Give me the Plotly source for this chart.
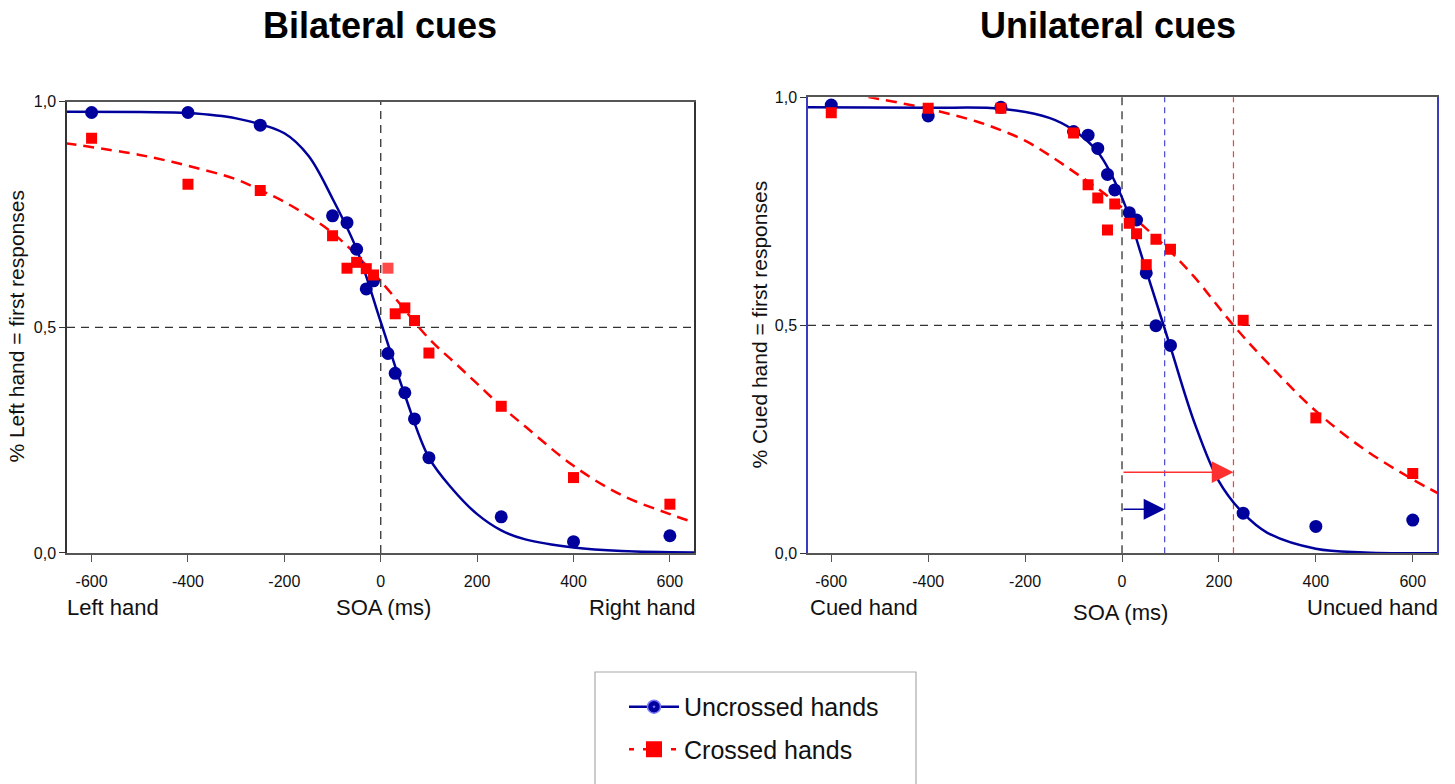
import plotly.graph_objects as go

# ---------------- data ----------------
soa = [-600, -400, -250, -100, -70, -50, -30, -15, 15, 30, 50, 70, 100, 250, 400, 600]

# Bilateral cues: proportion "left hand = first response"
bil_uncrossed = [0.976, 0.976, 0.948, 0.747, 0.732, 0.673, 0.585, 0.603,
                 0.442, 0.398, 0.355, 0.297, 0.211, 0.080, 0.025, 0.038]
bil_crossed = [0.919, 0.817, 0.803, 0.703, 0.631, 0.644, 0.630, 0.616,
               0.631, 0.530, 0.543, 0.515, 0.443, 0.325, 0.167, 0.108]

# Unilateral cues: proportion "cued hand = first response"
uni_uncrossed = [0.983, 0.959, 0.978, 0.925, 0.917, 0.888, 0.831, 0.797,
                 0.747, 0.731, 0.615, 0.499, 0.456, 0.088, 0.059, 0.073]
uni_crossed = [0.966, 0.976, 0.976, 0.922, 0.808, 0.779, 0.709, 0.766,
               0.724, 0.701, 0.633, 0.689, 0.667, 0.511, 0.297, 0.175]

# fitted curves
bil_unc_fit_x = [-655, -500, -400, -300, -200, -150, -100, -50, 0, 50, 100, 150, 200, 250, 300, 400, 500, 655]
bil_unc_fit_y = [0.978, 0.977, 0.975, 0.963, 0.930, 0.880, 0.785, 0.673, 0.512, 0.350, 0.211, 0.140,
                 0.086, 0.050, 0.030, 0.012, 0.004, 0.001]
bil_cr_fit_x = [-655, -500, -400, -300, -250, -200, -100, 0, 100, 150, 200, 250, 300, 400, 500, 600, 655]
bil_cr_fit_y = [0.908, 0.882, 0.858, 0.828, 0.804, 0.778, 0.709, 0.602, 0.475, 0.425, 0.375, 0.325,
                0.280, 0.193, 0.128, 0.086, 0.066]
uni_unc_fit_x = [-655, -400, -250, -150, -100, -50, 0, 50, 100, 150, 200, 250, 300, 400, 500, 655]
uni_unc_fit_y = [0.978, 0.977, 0.975, 0.955, 0.928, 0.880, 0.780, 0.620, 0.452, 0.285, 0.158, 0.088,
                 0.045, 0.010, 0.002, 0.000]
uni_cr_fit_x = [-560, -520, -400, -300, -250, -200, -150, -100, -50, 0, 50, 100, 150, 230, 300, 400, 500, 600, 655]
uni_cr_fit_y = [1.008, 1.000, 0.975, 0.947, 0.928, 0.905, 0.873, 0.837, 0.800, 0.758, 0.712, 0.662,
                0.605, 0.500, 0.418, 0.312, 0.228, 0.162, 0.130]

# points of subjective simultaneity (unilateral cues)
pse_uncrossed = 88
pse_crossed = 230
arrow_y_uncrossed = 0.0965
arrow_y_crossed = 0.178

x_ticks = [-600, -400, -200, 0, 200, 400, 600]
x_ticktext = ["-600", "-400", "-200", "0", "200", "400", "600"]
y_ticks = [0, 0.5, 1.0]
y_ticktext = ["0,0", "0,5", "1,0"]

BLUE = "#00009c"
RED = "#ff0000"
FONT = "Arial, Liberation Sans, sans-serif"
W, H = 1455, 784
VSCALE = 0.98  # vertical compensation measured against the rendered page

fig = go.Figure()

# ---------- left panel ----------
fig.add_trace(go.Scatter(x=bil_cr_fit_x, y=bil_cr_fit_y, mode="lines", line_shape="spline",
                         line=dict(color=RED, width=2.5, dash="11px,7px"),
                         xaxis="x", yaxis="y", showlegend=False, hoverinfo="skip"))
fig.add_trace(go.Scatter(x=bil_unc_fit_x, y=bil_unc_fit_y, mode="lines", line_shape="spline",
                         line=dict(color=BLUE, width=2.5),
                         xaxis="x", yaxis="y", showlegend=False, hoverinfo="skip"))
fig.add_trace(go.Scatter(x=soa, y=bil_uncrossed, mode="markers",
                         marker=dict(symbol="circle", size=13, color=BLUE),
                         xaxis="x", yaxis="y", showlegend=False))
red_cols_left = [RED] * len(soa)
red_cols_left[8] = "#ff4a4a"
fig.add_trace(go.Scatter(x=soa, y=bil_crossed, mode="markers",
                         marker=dict(symbol="square", size=11, color=red_cols_left),
                         xaxis="x", yaxis="y", showlegend=False))

# ---------- right panel ----------
fig.add_trace(go.Scatter(x=uni_cr_fit_x, y=uni_cr_fit_y, mode="lines", line_shape="spline",
                         line=dict(color=RED, width=2.5, dash="11px,7px"),
                         xaxis="x2", yaxis="y2", showlegend=False, hoverinfo="skip"))
fig.add_trace(go.Scatter(x=uni_unc_fit_x, y=uni_unc_fit_y, mode="lines", line_shape="spline",
                         line=dict(color=BLUE, width=2.5),
                         xaxis="x2", yaxis="y2", showlegend=False, hoverinfo="skip"))
fig.add_trace(go.Scatter(x=soa, y=uni_uncrossed, mode="markers",
                         marker=dict(symbol="circle", size=13, color=BLUE),
                         xaxis="x2", yaxis="y2", showlegend=False))
fig.add_trace(go.Scatter(x=soa, y=uni_crossed, mode="markers",
                         marker=dict(symbol="square", size=11, color=RED),
                         xaxis="x2", yaxis="y2", showlegend=False))

# ---------- legend entries ----------
fig.add_trace(go.Scatter(x=[None], y=[None], mode="lines+markers", name="Uncrossed hands",
                         line=dict(color=BLUE, width=2.5),
                         marker=dict(symbol="circle-dot", size=13, color=BLUE,
                                     line=dict(color="#7a7aff", width=1.5)),
                         legendgroup="a", showlegend=True))
fig.add_trace(go.Scatter(x=[None], y=[None], mode="lines+markers", name="Crossed hands",
                         line=dict(color=RED, width=2.5, dash="5px,9px"),
                         marker=dict(symbol="square", size=16, color=RED),
                         legendgroup="b", showlegend=True))

# ---------- axes ----------
def px_x(p):
    return p / W

def px_y(p):
    q = H / 2 + (p - H / 2) / VSCALE
    return 1 - q / H

axis_common = dict(showgrid=False, zeroline=False, ticks="outside", showline=True, mirror=True,
                   tickfont=dict(family=FONT, size=16, color="#111"))

fig.update_layout(
    width=W, height=H,
    margin=dict(l=0, r=0, t=0, b=0),
    paper_bgcolor="white", plot_bgcolor="white",
    xaxis=dict(domain=[px_x(67), px_x(694)], range=[-651, 650], anchor="y",
               tickvals=x_ticks, ticktext=x_ticktext, ticklen=7, tickcolor="#555",
               linecolor="#555", linewidth=1.5, ticklabelstandoff=6, **axis_common),
    yaxis=dict(domain=[px_y(553.7), px_y(101.7)], range=[0, 1], anchor="x",
               tickvals=y_ticks, ticktext=y_ticktext, ticklen=6, tickcolor="#333",
               linecolor="#333", linewidth=1.5, **axis_common),
    xaxis2=dict(domain=[px_x(808), px_x(1437)], range=[-648, 650], anchor="y2",
                tickvals=x_ticks, ticktext=x_ticktext, ticklen=7, tickcolor="#555",
                linecolor="#555", linewidth=1.5, ticklabelstandoff=6, **axis_common),
    yaxis2=dict(domain=[px_y(554.1), px_y(97.3)], range=[0, 1], anchor="x2",
                tickvals=y_ticks, ticktext=y_ticktext, ticklen=6, tickcolor="#333",
                linecolor="#3b3bc0", linewidth=1.5, **axis_common),
    showlegend=True,
    legend=dict(x=px_x(624), y=px_y(685), xanchor="left", yanchor="top",
                font=dict(family=FONT, size=25, color="#111"),
                bgcolor="rgba(0,0,0,0)", borderwidth=0,
                traceorder="grouped", tracegroupgap=7, itemwidth=50),
)

# ---------- reference lines ----------
shapes = []
dash_black = "8px,6px"
for xr, yr in (("x", "y"), ("x2", "y2")):
    shapes.append(dict(type="line", xref=xr, yref=f"{yr} domain", x0=0, x1=0, y0=0, y1=1,
                       line=dict(color="#333", width=1.3, dash=dash_black), layer="below"))
    shapes.append(dict(type="line", xref=f"{xr} domain", yref=yr, x0=0, x1=1, y0=0.5, y1=0.5,
                       line=dict(color="#333", width=1.3, dash=dash_black), layer="below"))
shapes.append(dict(type="line", xref="x2", yref="y2 domain", x0=pse_uncrossed, x1=pse_uncrossed,
                   y0=0, y1=1, line=dict(color="#4848d0", width=1.2, dash="6px,5px"), layer="below"))
shapes.append(dict(type="line", xref="x2", yref="y2 domain", x0=pse_crossed, x1=pse_crossed,
                   y0=0, y1=1, line=dict(color="#ff3a3a", width=1.2, dash="6px,5px"), layer="below"))
# legend box
shapes.append(dict(type="rect", xref="paper", yref="paper", x0=px_x(595), x1=px_x(916),
                   y0=px_y(810), y1=px_y(673), line=dict(color="#aaaaaa", width=1.2)))
fig.update_layout(shapes=shapes)

# ---------- annotations ----------
def label(text, x, y, xanchor="center", size=22, angle=0, bold=False):
    return dict(text=f"<b>{text}</b>" if bold else text, x=px_x(x), y=px_y(y),
                xref="paper", yref="paper", xanchor=xanchor, yanchor="middle",
                textangle=angle, showarrow=False,
                font=dict(family=FONT, size=size, color="#000" if bold else "#111"))

ann = []
# arrows
ann.append(dict(x=pse_crossed, y=arrow_y_crossed, ax=0, ay=arrow_y_crossed,
                xref="x2", yref="y2", axref="x2", ayref="y2", text="", showarrow=True,
                arrowhead=2, arrowsize=2.9, arrowwidth=1.5, arrowcolor="#ff3030"))
ann.append(dict(x=pse_uncrossed, y=arrow_y_uncrossed, ax=0, ay=arrow_y_uncrossed,
                xref="x2", yref="y2", axref="x2", ayref="y2", text="", showarrow=True,
                arrowhead=2, arrowsize=2.8, arrowwidth=1.5, arrowcolor=BLUE))
# titles
ann.append(label("Bilateral cues", 380, 25, size=36, bold=True))
ann.append(label("Unilateral cues", 1108, 25, size=36, bold=True))
# y titles
ann.append(label("% Left hand = first responses", 17, 327, size=21, angle=-90))
ann.append(label("% Cued hand = first responses", 760, 325, size=21, angle=-90))
# x labels
ann += [
    label("Left hand", 65, 608, xanchor="left"),
    label("SOA (ms)", 383, 608),
    label("Right hand", 697, 608, xanchor="right"),
    label("Cued hand", 808, 608, xanchor="left"),
    label("SOA (ms)", 1120, 613),
    label("Uncued hand", 1440, 608, xanchor="right"),
]
fig.update_layout(annotations=ann)

fig.write_html("out.html", config={"displayModeBar": False},
               post_script="document.body.style.margin='0';document.body.style.overflow='hidden';")
